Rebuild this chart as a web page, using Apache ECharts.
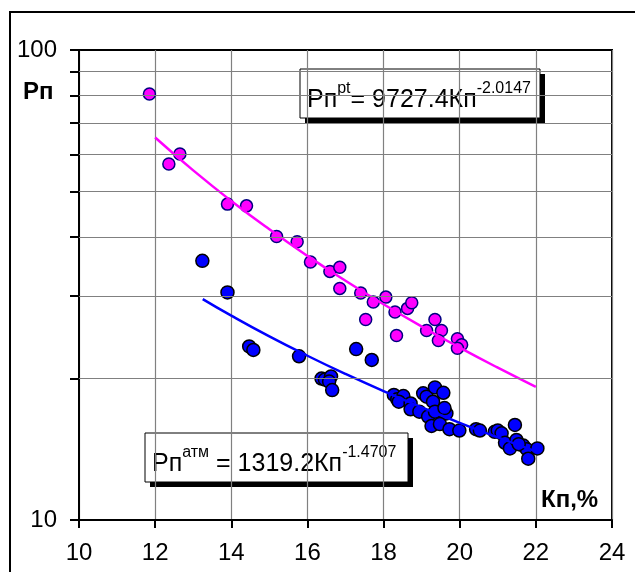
<!DOCTYPE html>
<html><head><meta charset="utf-8">
<script src="https://cdn.jsdelivr.net/npm/echarts@6/dist/echarts.min.js"></script>
<style>html,body{margin:0;padding:0;background:#fff}#c{width:635px;height:572px}</style>
</head><body><div id="c"></div>
<script>
// ---- data ----
const xTickMin = 10, xTickMax = 24, xTickStep = 2;
const yGridValues = [10, 20, 30, 40, 50, 60, 70, 80, 90, 100];
const yMinorGrid = [20, 30, 40, 50, 60, 70, 80, 90];
const yLabelValues = [10, 100];

// Рп^pt points (magenta)
const ptKp = [11.85, 12.36, 12.65, 13.90, 14.40, 15.19, 15.73, 16.08, 16.59, 16.85, 16.85, 17.40, 17.73, 18.06, 17.53, 18.30, 18.34, 18.63, 18.74, 19.13, 19.35, 19.52, 19.44, 19.94, 20.05, 19.94];
const ptRp = [80.6, 57.2, 60.1, 47.0, 46.6, 40.1, 39.1, 35.4, 33.8, 34.5, 31.1, 30.4, 29.1, 29.8, 26.7, 27.7, 24.7, 28.2, 29.0, 25.3, 26.7, 25.3, 24.1, 24.3, 23.6, 23.2];

// Рп^атм points (blue)
const atmKp = [13.24, 13.90, 14.47, 14.58, 15.78, 16.37, 16.46, 16.62, 16.57, 16.65, 17.28, 17.69, 18.27, 18.36, 18.52, 18.40, 18.71, 18.71, 18.94, 19.04, 19.13, 19.35, 19.57, 19.30, 19.17, 19.35, 19.65, 19.60, 19.26, 19.48, 19.73, 19.99, 20.43, 20.53, 20.92, 21.00, 21.10, 21.45, 21.19, 21.32, 21.49, 21.67, 21.76, 21.80, 22.04, 21.55];
const atmRp = [35.6, 30.5, 23.4, 23.0, 22.3, 20.0, 19.9, 20.2, 19.7, 18.9, 23.1, 21.9, 18.45, 18.06, 18.35, 17.85, 17.7, 17.2, 17.0, 18.6, 18.3, 19.15, 18.65, 17.85, 16.6, 17.0, 16.85, 17.3, 15.85, 16.0, 15.6, 15.5, 15.6, 15.5, 15.4, 15.5, 15.29, 15.93, 14.6, 14.2, 14.8, 14.4, 14.15, 13.5, 14.2, 14.5];

// trend lines (Рп = 9727.4Кп^-2.0147 and Рп = 1319.2Кп^-1.4707)
const ptTrendKp = [12, 13, 14, 15, 16, 17, 18, 19, 20, 21, 22];
const ptTrendRp = [65.13, 55.44, 47.73, 41.54, 36.47, 32.28, 28.77, 25.80, 23.27, 21.09, 19.20];
const atmTrendKp = [13.25, 14, 15, 16, 17, 18, 19, 20, 21, 22];
const atmTrendRp = [29.51, 27.21, 24.58, 22.36, 20.45, 18.80, 17.37, 16.10, 14.99, 14.00];

const eqPt = {base: 'Рп', sup1: 'pt', mid: '= 9727.4Кп', sup2: '-2.0147'};
const eqAtm = {base: 'Рп', sup1: 'атм', mid: ' = 1319.2Кп', sup2: '-1.4707'};
const yName = 'Рп';
const xName = 'Кп,%';

// ---- chart ----
const FONT = "'Liberation Sans', Arial, sans-serif";
const zip = (a, b) => a.map((v, i) => [v, b[i]]);
const chart = echarts.init(document.getElementById('c'), null, {renderer: 'canvas'});

const richEq = {
  m: {fontSize: 25, fontFamily: FONT, color: '#000', lineHeight: 32, verticalAlign: 'bottom'},
  s: {fontSize: 16, fontFamily: FONT, color: '#000', lineHeight: 14, verticalAlign: 'top'}
};
function eqText(e) {
  return '{m|' + e.base + '}{s|' + e.sup1 + '}{m|' + e.mid + '}{s|' + e.sup2 + '}';
}
function eqBox(x, y, w, h, e) {
  return {
    type: 'group', x: x, y: y, z: 100,
    children: [
      {type: 'rect', shape: {x: 5, y: 5, width: w, height: h}, style: {fill: '#000', stroke: null}},
      {type: 'rect', shape: {x: 0, y: 0, width: w, height: h}, style: {fill: '#fff', stroke: '#000', lineWidth: 1}},
      {type: 'text', x: 7, y: h / 2 + 3,
       style: {text: eqText(e), rich: richEq, textVerticalAlign: 'middle', textAlign: 'left'}}
    ]
  };
}

chart.setOption({
  animation: false,
  backgroundColor: '#fff',
  grid: {left: 79, top: 50, right: 23, bottom: 52, show: true, borderColor: '#000', borderWidth: 2},
  xAxis: {
    type: 'value', min: xTickMin, max: xTickMax, interval: xTickStep,
    axisLine: {show: true, onZero: false, lineStyle: {color: '#000', width: 2}},
    axisTick: {show: true, inside: false, length: 8, lineStyle: {color: '#000', width: 2}},
    axisLabel: {fontSize: 24, color: '#000', fontFamily: FONT, margin: 21},
    splitLine: {show: true, lineStyle: {color: '#808080', width: 1.2}}
  },
  yAxis: {
    type: 'log', logBase: 10, min: 10, max: 100,
    axisLine: {show: true, lineStyle: {color: '#000', width: 2}},
    axisTick: {show: true, inside: false, length: 9, customValues: yGridValues, lineStyle: {color: '#000', width: 2}},
    axisLabel: {fontSize: 24, color: '#000', fontFamily: FONT, margin: 22, customValues: yLabelValues},
    splitLine: {show: false}
  },
  series: [
    {type: 'scatter', name: 'grid', data: [], z: 1, silent: true,
     markLine: {silent: true, symbol: ['none', 'none'], animation: false, label: {show: false},
       lineStyle: {type: 'solid', color: '#808080', width: 1.2},
       data: yMinorGrid.map(v => ({yAxis: v}))}},
    {type: 'scatter', name: 'pt', data: zip(ptKp, ptRp), symbol: 'circle', symbolSize: 12, z: 3,
     itemStyle: {color: '#FF00FF', borderColor: '#000080', borderWidth: 1.5, opacity: 1}},
    {type: 'scatter', name: 'atm', data: zip(atmKp, atmRp), symbol: 'circle', symbolSize: 13, z: 3,
     itemStyle: {color: '#0000FF', borderColor: '#000', borderWidth: 1.5, opacity: 1}},
    {type: 'line', name: 'pt trend', data: zip(ptTrendKp, ptTrendRp), showSymbol: false, smooth: true, z: 4,
     lineStyle: {color: '#FF00FF', width: 2.5}},
    {type: 'line', name: 'atm trend', data: zip(atmTrendKp, atmTrendRp), showSymbol: false, smooth: true, z: 4,
     lineStyle: {color: '#0000FF', width: 2.5}}
  ],
  graphic: [
    {type: 'rect', shape: {x: 10, y: 12, width: 800, height: 800}, style: {fill: null, stroke: '#000', lineWidth: 2}, z: 0, silent: true},
    eqBox(300, 69, 240, 49, eqPt),
    eqBox(145, 433, 263, 49, eqAtm),
    {type: 'text', x: 23, y: 92, z: 100, style: {text: yName, font: 'bold 24px ' + FONT, fill: '#000', textVerticalAlign: 'middle'}},
    {type: 'text', x: 541, y: 500, z: 100, style: {text: xName, font: 'bold 24px ' + FONT, fill: '#000', textVerticalAlign: 'middle'}}
  ]
});
</script>
</body></html>
